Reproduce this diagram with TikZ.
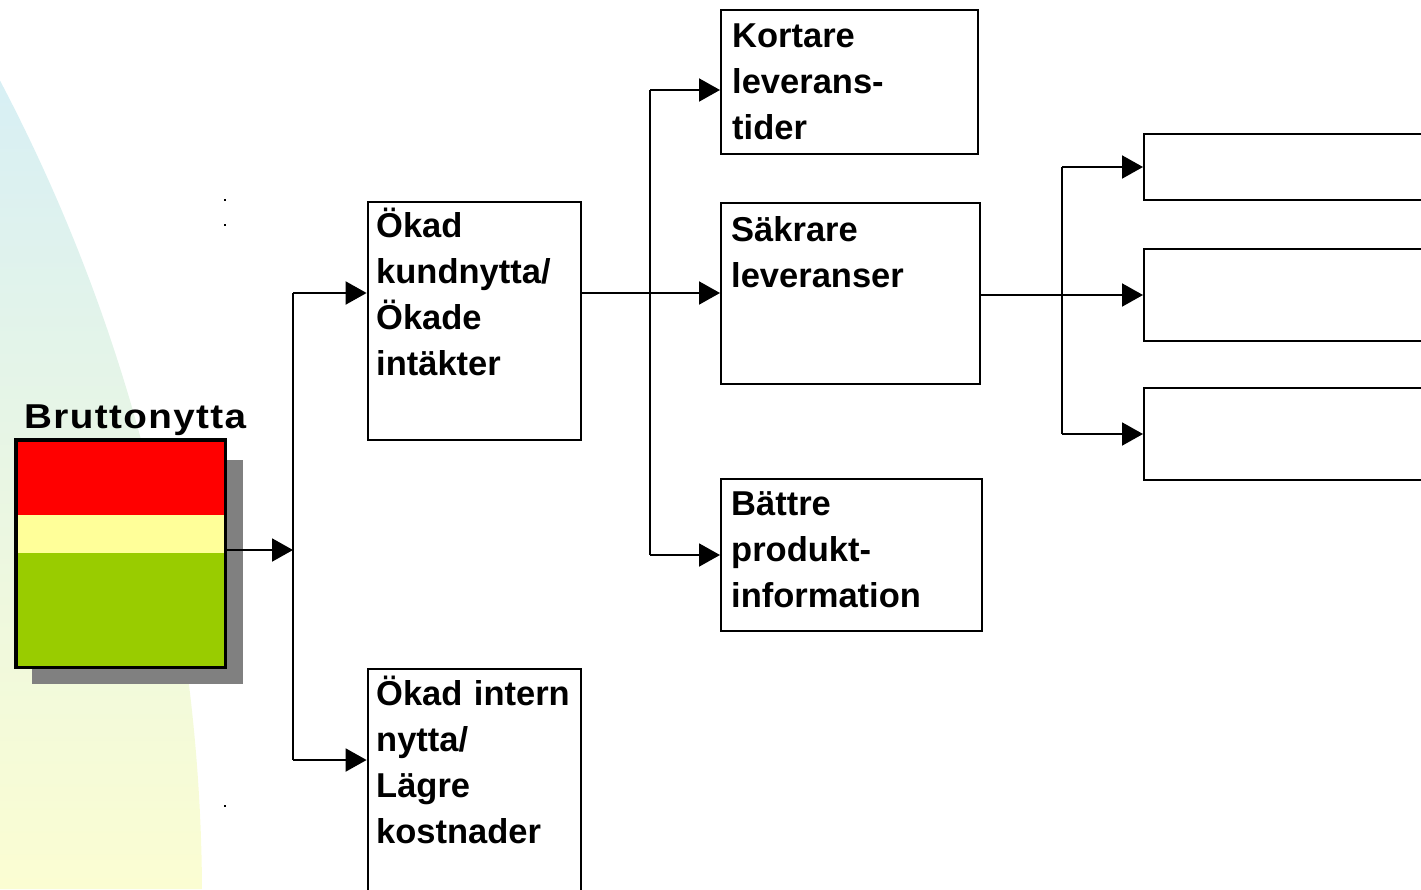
\documentclass[tikz,border=0pt]{standalone}
\usepackage{fontspec}
\setmainfont{Liberation Sans}
\usetikzlibrary{arrows.meta}
\definecolor{bgtop}{HTML}{D4EEF8}
\definecolor{bgbot}{HTML}{FBFDD2}
\definecolor{bred}{HTML}{FF0000}
\definecolor{byel}{HTML}{FFFF99}
\definecolor{bgreen}{HTML}{99CC00}
\definecolor{shad}{HTML}{808080}
\tikzset{
  box/.style={draw=black, line width=2pt, rectangle, inner sep=0pt},
  thickbox/.style={box, line width=2.8pt},
  txt/.style={anchor=north west, inner sep=0pt, align=left, text width=260pt,
    font=\fontsize{34.5}{46}\selectfont\bfseries},
  conn/.style={line width=2pt},
  arr/.style={line width=2pt, -{Triangle[length=21pt,width=23pt]}},
}
\newcommand{\fl}{\rule{0pt}{34pt}}
\begin{document}
\begin{tikzpicture}[x=1pt,y=-1pt]
\useasboundingbox (0,0) rectangle (1421,889);
% background curved gradient
\begin{scope}
\clip (0,0) rectangle (1421,889);
\shade[top color=bgtop, bottom color=bgbot]
  (-10,0) -- (-10,889) -- (202,889)
  arc[start angle=-0.3, end angle=-28.6, x radius=1756pt, y radius=-1756pt]
  -- (-10,0) -- cycle;
\end{scope}
% specks
\fill (224,199) rectangle (226,201);
\fill (224,224) rectangle (226,226);
\fill (224,805) rectangle (226,807);
% Bruttonytta box
\fill[shad] (32,460) rectangle (243,684);
\fill[bred] (16,441) rectangle (224,515);
\fill[byel] (16,515) rectangle (224,553);
\fill[bgreen] (16,553) rectangle (224,666);
\node[draw=black, line width=3.5pt, inner sep=0pt, minimum width=209.5pt, minimum height=227.5pt] (brutto) at (120.5,553.5) {};
\node[anchor=base west, inner sep=0pt, font=\fontsize{34.5}{46}\selectfont\bfseries\addfontfeature{FakeStretch=1.12,LetterSpace=4}] (bruttotxt) at (24,428) {Bruttonytta};
% boxes
\node[thickbox, minimum width=213pt, minimum height=238pt] (kund) at (474.5,321) {};
\node[thickbox, minimum width=213pt, minimum height=240pt] (intern) at (474.5,789) {};
\node[box, minimum width=257pt, minimum height=144pt] (kort) at (849.5,82) {};
\node[box, minimum width=259pt, minimum height=181pt] (sak) at (850.5,293.5) {};
\node[box, minimum width=261pt, minimum height=152pt] (batt) at (851.5,555) {};
\node[box, minimum width=296pt, minimum height=66pt] (r1) at (1292,167) {};
\node[box, minimum width=296pt, minimum height=92pt] (r2) at (1292,295) {};
\node[box, minimum width=296pt, minimum height=92pt] (r3) at (1292,434) {};
% texts
\node[txt] (kundtxt) at (376,237-34) {\fl Ökad\\kundnytta/\\Ökade\\intäkter};
\node[txt] (interntxt) at (376,705-34) {\fl Ökad intern\\nytta/\\Lägre\\kostnader};
\node[txt] (korttxt) at (732,47-34) {\fl Kortare\\leverans-\\tider};
\node[txt] (saktxt) at (731,241-34) {\fl Säkrare\\leveranser};
\node[txt] (batttxt) at (731,515-34) {\fl Bättre\\produkt-\\information};
% connectors level 1
\coordinate (j1) at (293,550);
\coordinate (t1) at (293,293);
\coordinate (t2) at (293,760);
\draw[arr] (j1 -| brutto.east) -- (j1);
\draw[conn] (t1) -- (t2);
\draw[arr] (t1) -- (t1 -| kund.west);
\draw[arr] (t2) -- (t2 -| intern.west);
% level 2
\coordinate (j2) at (650,293);
\coordinate (u1) at (650,90);
\coordinate (u2) at (650,555);
\draw[arr] (j2 -| kund.east) -- (j2 -| sak.west);
\draw[conn] (u1) -- (u2);
\draw[arr] (u1) -- (u1 -| kort.west);
\draw[arr] (u2) -- (u2 -| batt.west);
% level 3
\coordinate (v1) at (1062,167);
\coordinate (v2) at (1062,434);
\draw[arr] (r2.west -| sak.east) -- (r2.west);
\draw[conn] (v1) -- (v2);
\draw[arr] (v1) -- (r1.west);
\draw[arr] (v2) -- (r3.west);
\end{tikzpicture}
\end{document}
